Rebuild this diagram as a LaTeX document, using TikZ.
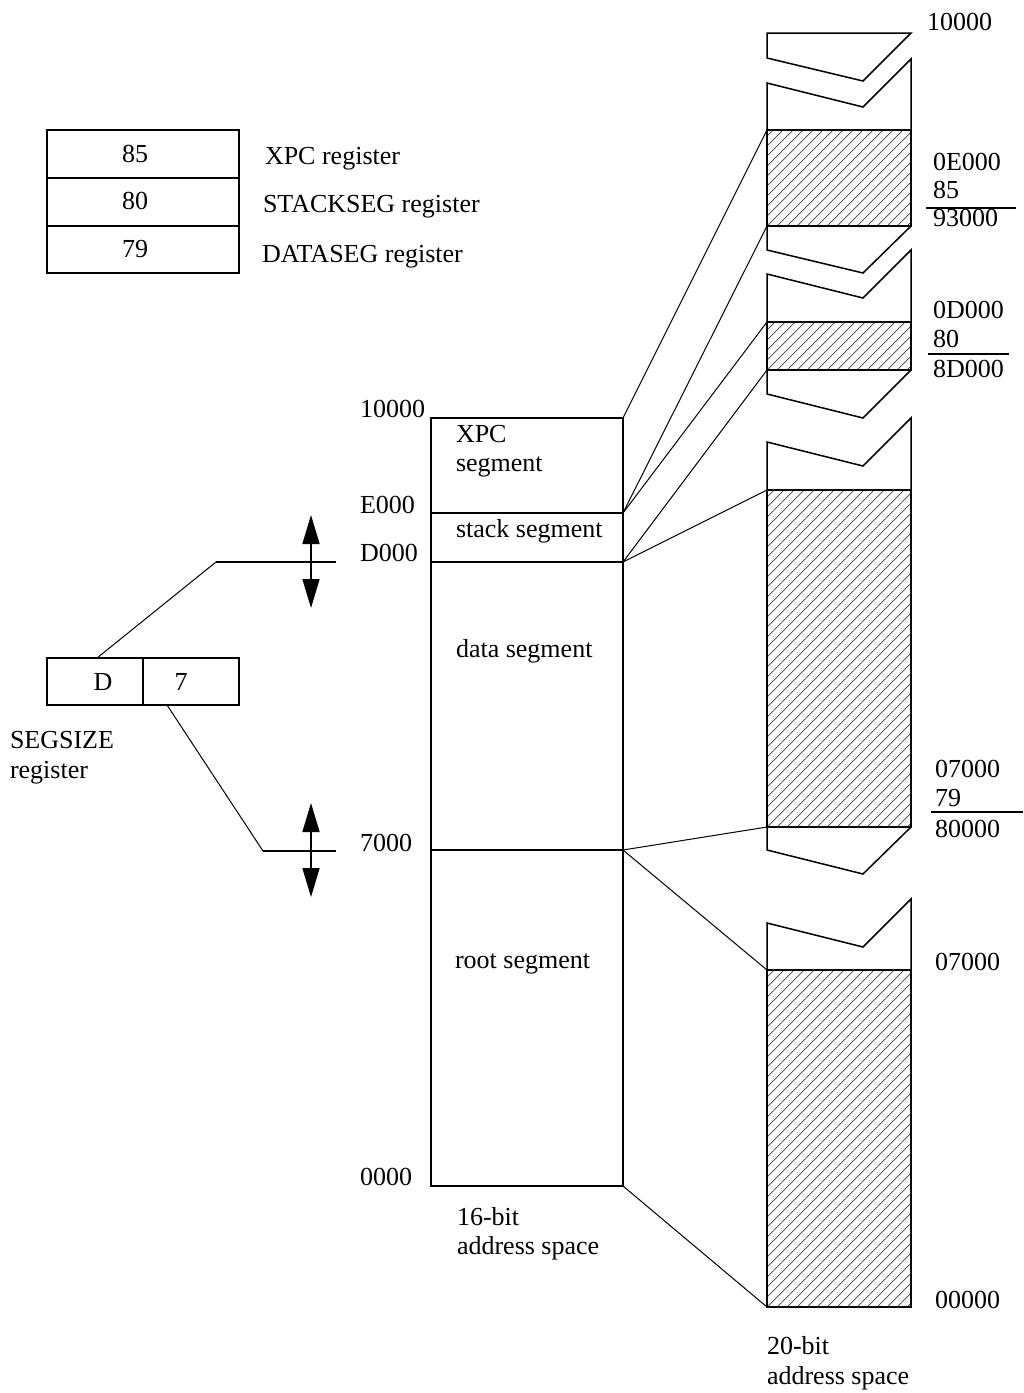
\documentclass[tikz,border=0pt]{standalone}
\usepackage{fontspec}
\setmainfont{Liberation Serif}
\usetikzlibrary{arrows.meta}
\begin{document}
\begin{tikzpicture}[x=1pt,y=-1pt,
  every node/.style={font=\fontsize{26}{30}\selectfont, inner sep=0pt, outer sep=0pt},
  txt/.style={anchor=base west},
  ctxt/.style={anchor=base},
  cell/.style={draw, line width=2pt, anchor=north west, minimum width=#1},
  hatched/.style={cell=144pt, path picture={
    \foreach \k in {-350,-340,...,150}{
      \draw[line width=0.7pt, black!75] ([xshift=\k pt]path picture bounding box.south west) -- ++(360pt,360pt);
    }}},
  thin/.style={line width=1pt},
  zig/.style={line width=1.5pt, line join=miter},
  frac/.style={line width=1.6pt},
  dbl/.style={line width=1.6pt, {Triangle[length=29pt,width=17pt]}-{Triangle[length=29pt,width=17pt]}}
]
\useasboundingbox (0,0) rectangle (1024,1393);

% register table
\node[cell=192pt, minimum height=48pt] (r1) at (47,130) {};
\node[cell=192pt, minimum height=48pt] (r2) at (47,178) {};
\node[cell=192pt, minimum height=47pt] (r3) at (47,226) {};
\node[ctxt] (v85) at (135,162) {85};
\node[ctxt] (v80) at (135,209) {80};
\node[ctxt] (v79) at (135,257) {79};
\node[txt] (lxpc) at (265,164) {XPC register};
\node[txt] (lss) at (263,212) {STACKSEG register};
\node[txt] (lds) at (262,262) {DATASEG register};

% SEGSIZE register
\node[cell=96pt, minimum height=47pt] (sD) at (47,658) {};
\node[cell=96pt, minimum height=47pt] (s7) at (143,658) {};
\node[ctxt] (vD) at (103,690) {D};
\node[ctxt] (v7) at (181,690) {7};
\node[txt] (lseg1) at (10,748) {SEGSIZE};
\node[txt] (lseg2) at (10,778) {register};

% links from SEGSIZE to arrows
\coordinate (k1) at (216,562);
\coordinate (k1e) at (336,562);
\coordinate (k2) at (263,851);
\coordinate (k2e) at (336,851);
\coordinate (sDt) at (97,658);
\coordinate (s7b) at (167,705);
\draw[thin] (sDt) -- (k1);
\draw[line width=1.6pt] (k1) -- (k1e);
\draw[thin] (s7b) -- (k2);
\draw[line width=1.6pt] (k2) -- (k2e);
\coordinate (a1t) at (311,515);
\coordinate (a1b) at (311,608);
\coordinate (a2t) at (311,803);
\coordinate (a2b) at (311,897);
\draw[dbl] (a1t) -- (a1b);
\draw[dbl] (a2t) -- (a2b);

% 16-bit address space
\node[cell=192pt, minimum height=95pt] (xseg) at (431,418) {};
\node[cell=192pt, minimum height=49pt] (sseg) at (431,513) {};
\node[cell=192pt, minimum height=288pt] (dseg) at (431,562) {};
\node[cell=192pt, minimum height=336pt] (rseg) at (431,850) {};
\node[txt] (t10000) at (360,417) {10000};
\node[txt] (tE000) at (360,513) {E000};
\node[txt] (tD000) at (360,561) {D000};
\node[txt] (t7000) at (360,851) {7000};
\node[txt] (t0000) at (360,1185) {0000};
\node[txt] (nx1) at (456,442) {XPC};
\node[txt] (nx2) at (456,471) {segment};
\node[txt] (ns) at (456,537) {stack segment};
\node[txt] (nd) at (456,657) {data segment};
\node[txt] (nr) at (455,968) {root segment};
\node[txt] (n16a) at (457,1225) {16-bit};
\node[txt] (n16b) at (457,1254) {address space};

% 20-bit address space
\node[hatched, minimum height=96pt] (h1) at (767,130) {};
\node[hatched, minimum height=48pt] (h2) at (767,322) {};
\node[hatched, minimum height=337pt] (h3) at (767,490) {};
\node[hatched, minimum height=337pt] (h4) at (767,970) {};

% break pieces
\draw[zig] (767,33) -- (911,33) -- (863,81) -- (767,58) -- cycle;
\draw[zig] (767,130) -- (767,83) -- (863,107) -- (911,59) -- (911,130);
\draw[zig] (767,226) -- (767,250) -- (863,273) -- (911,226);
\draw[zig] (767,322) -- (767,274) -- (863,298) -- (911,250) -- (911,322);
\draw[zig] (767,370) -- (767,394) -- (863,418) -- (911,370);
\draw[zig] (767,490) -- (767,442) -- (863,466) -- (911,418) -- (911,490);
\draw[zig] (767,827) -- (767,850) -- (863,874) -- (911,827);
\draw[zig] (767,970) -- (767,923) -- (863,947) -- (911,899) -- (911,970);

% connectors
\draw[thin] (xseg.north east) -- (h1.north west);
\draw[thin] (xseg.south east) -- (h1.south west);
\draw[thin] (sseg.north east) -- (h2.north west);
\draw[thin] (sseg.south east) -- (h2.south west);
\draw[thin] (dseg.north east) -- (h3.north west);
\draw[thin] (dseg.south east) -- (h3.south west);
\draw[thin] (rseg.north east) -- (h4.north west);
\draw[thin] (rseg.south east) -- (h4.south west);

% right labels
\node[txt] (u10000) at (927,30) {10000};
\node[txt] (uE1) at (933,170) {0E000};
\node[txt] (uE2) at (933,198) {85};
\node[txt] (uE3) at (933,226) {93000};
\coordinate (f1a) at (926,208); \coordinate (f1b) at (1016,208);
\draw[frac] (f1a) -- (f1b);
\node[txt] (uD1) at (933,318) {0D000};
\node[txt] (uD2) at (933,347) {80};
\node[txt] (uD3) at (933,377) {8D000};
\coordinate (f2a) at (928,354); \coordinate (f2b) at (1009,354);
\draw[frac] (f2a) -- (f2b);
\node[txt] (u71) at (935,777) {07000};
\node[txt] (u72) at (935,806) {79};
\node[txt] (u73) at (935,837) {80000};
\coordinate (f3a) at (931,812); \coordinate (f3b) at (1023,812);
\draw[frac] (f3a) -- (f3b);
\node[txt] (u74) at (935,970) {07000};
\node[txt] (u00) at (935,1308) {00000};
\node[txt] (n20a) at (767,1354) {20-bit};
\node[txt] (n20b) at (767,1384) {address space};
\end{tikzpicture}
\end{document}
